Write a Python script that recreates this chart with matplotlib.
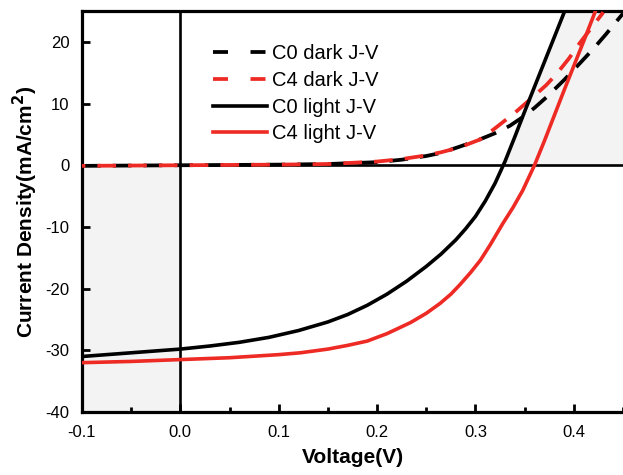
import numpy as np
import matplotlib
matplotlib.use("Agg")
import matplotlib.pyplot as plt
from matplotlib.ticker import MultipleLocator

plt.rcParams['font.family'] = ['Liberation Sans', 'DejaVu Sans']
plt.rcParams['axes.unicode_minus'] = False

# --- dados ---
v_c0_luz = [-0.1, -0.05, 0.0, 0.03, 0.06, 0.09, 0.12, 0.15, 0.17, 0.19, 0.21,
            0.23, 0.25, 0.265, 0.28, 0.29, 0.30, 0.31, 0.32, 0.33, 0.34, 0.35,
            0.36, 0.37, 0.38, 0.392]
j_c0_luz = [-31.0, -30.4, -29.8, -29.3, -28.7, -27.9, -26.8, -25.4, -24.2,
            -22.7, -20.9, -18.8, -16.4, -14.4, -12.1, -10.3, -8.3, -5.8, -2.9,
            0.6, 4.6, 8.7, 12.7, 16.7, 20.7, 25.5]

v_c4_luz = [-0.1, -0.05, 0.0, 0.05, 0.1, 0.122, 0.15, 0.17, 0.19, 0.21, 0.234,
            0.25, 0.264, 0.275, 0.284, 0.295, 0.305, 0.315, 0.328, 0.338, 0.348,
            0.36, 0.37, 0.38, 0.39, 0.40, 0.41, 0.422]
j_c4_luz = [-32.0, -31.8, -31.5, -31.2, -30.7, -30.4, -29.8, -29.2, -28.5,
            -27.3, -25.5, -24.0, -22.4, -20.9, -19.4, -17.4, -15.4, -12.9, -9.4,
            -6.9, -4.1, 0.0, 3.9, 8.0, 12.1, 16.1, 20.1, 25.0]

v_c0_esc = [-0.1, 0.0, 0.1, 0.15, 0.2, 0.225, 0.25, 0.265, 0.28, 0.3, 0.32,
            0.335, 0.348, 0.36, 0.372, 0.39, 0.406, 0.42, 0.433, 0.45]
j_c0_esc = [-0.1, 0.0, 0.1, 0.2, 0.5, 0.9, 1.5, 2.0, 2.8, 3.9, 5.2, 6.4, 7.8,
            9.3, 11.0, 13.8, 16.5, 18.9, 21.3, 24.6]

v_c4_esc = [-0.1, 0.0, 0.1, 0.15, 0.2, 0.225, 0.25, 0.265, 0.284, 0.305, 0.32,
            0.34, 0.358, 0.372, 0.383, 0.395, 0.406, 0.418, 0.43]
j_c4_esc = [-0.1, 0.0, 0.1, 0.2, 0.6, 1.0, 1.6, 2.1, 2.9, 4.2, 6.0, 8.5, 11.0,
            13.0, 14.9, 17.3, 19.8, 22.3, 24.8]

xlim = (-0.1, 0.45)
ylim = (-40, 25)
cinza = '#f3f3f3'
vermelho = '#ee2a24'
tracejado = (5, 3.2)

fig = plt.figure(figsize=(6.23, 4.75), dpi=100)
ax = fig.add_axes([0.1316, 0.1326, 0.8684, 0.8442])

# regiões sombreadas (2º e 4º quadrantes da curva J-V)
ax.fill_between([xlim[0], 0.0], ylim[0], 0, color=cinza, zorder=0)
v_arr = np.array(v_c0_luz)
j_arr = np.array(j_c0_luz)
sel = j_arr >= 0
ax.fill_betweenx(np.r_[0.0, j_arr[sel]], np.r_[0.3285, v_arr[sel]], xlim[1],
                 color=cinza, zorder=0)

ax.axhline(0, color='black', lw=1.9, zorder=1)
ax.axvline(0, color='black', lw=1.9, zorder=1)

ax.plot(v_c0_esc, j_c0_esc, color='black', lw=2.7, ls=(0, tracejado),
        label='C0 dark J-V', zorder=3)
ax.plot(v_c4_esc, j_c4_esc, color=vermelho, lw=2.7, ls=(4.1, tracejado),
        label='C4 dark J-V', zorder=3)
ax.plot(v_c0_luz, j_c0_luz, color='black', lw=2.6, label='C0 light J-V',
        zorder=4)
ax.plot(v_c4_luz, j_c4_luz, color=vermelho, lw=2.6, label='C4 light J-V',
        zorder=4)

ax.set_xlim(*xlim)
ax.set_ylim(*ylim)
ax.xaxis.set_minor_locator(MultipleLocator(0.05))
ax.yaxis.set_major_locator(MultipleLocator(10))
ax.set_xticks([-0.1, 0.0, 0.1, 0.2, 0.3, 0.4])
ax.set_xticklabels(['-0.1', '0.0', '0.1', '0.2', '0.3', '0.4'])
ax.tick_params(axis='both', which='major', direction='in', length=5.5,
               width=2, labelsize=12)
ax.tick_params(axis='x', which='major', pad=9)
ax.tick_params(axis='y', which='major', pad=9)
ax.tick_params(axis='x', which='minor', direction='in', length=3.5, width=2)
ax.tick_params(axis='y', which='minor', left=False)

for lado in ['left', 'bottom', 'top']:
    ax.spines[lado].set_linewidth(2.3)
ax.spines['right'].set_visible(False)

ax.set_xlabel('Voltage(V)', fontsize=15, fontweight='bold', labelpad=6)
ax.set_ylabel('Current Density(mA/cm$^\\mathbf{2}$)', fontsize=15,
              fontweight='bold', labelpad=4)

leg = ax.legend(loc='upper left', bbox_to_anchor=(0.242, 0.917), frameon=False,
                fontsize=14.5, handlelength=2.7, handletextpad=0.25,
                labelspacing=0.38, borderpad=0, borderaxespad=0)
# na legenda os dois tracejados começam iguais
for linha in leg.get_lines()[:2]:
    linha.set_linestyle((0, (4, 6)))

fig.savefig('out.png', dpi=100)
